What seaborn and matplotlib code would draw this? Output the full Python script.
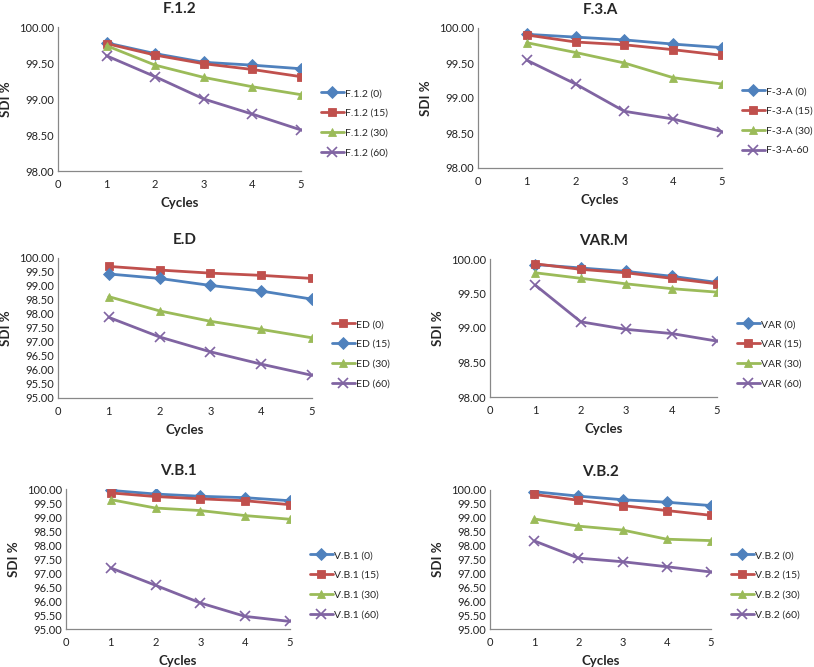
import pandas as pd
import seaborn as sns
import matplotlib.pyplot as plt
from matplotlib.ticker import FormatStrFormatter

cycles = [1, 2, 3, 4, 5]

# F.1.2
f12_labels = ["F.1.2 (0)", "F.1.2 (15)", "F.1.2 (30)", "F.1.2 (60)"]
f12_0 = [99.78, 99.63, 99.51, 99.47, 99.42]
f12_15 = [99.77, 99.61, 99.49, 99.41, 99.31]
f12_30 = [99.74, 99.47, 99.30, 99.17, 99.06]
f12_60 = [99.60, 99.31, 99.00, 98.79, 98.57]

# F.3.A
f3a_labels = ["F-3-A (0)", "F-3-A (15)", "F-3-A (30)", "F-3-A-60"]
f3a_0 = [99.91, 99.87, 99.83, 99.77, 99.72]
f3a_15 = [99.90, 99.80, 99.76, 99.69, 99.61]
f3a_30 = [99.79, 99.65, 99.50, 99.29, 99.20]
f3a_60 = [99.54, 99.20, 98.81, 98.70, 98.52]

# E.D
ed_labels = ["ED (0)", "ED (15)", "ED (30)", "ED (60)"]
ed_0 = [99.70, 99.57, 99.46, 99.38, 99.27]
ed_15 = [99.43, 99.27, 99.02, 98.82, 98.53]
ed_30 = [98.62, 98.11, 97.74, 97.45, 97.15]
ed_60 = [97.88, 97.18, 96.65, 96.21, 95.81]

# VAR.M
var_labels = ["VAR (0)", "VAR (15)", "VAR (30)", "VAR (60)"]
var_0 = [99.92, 99.87, 99.82, 99.75, 99.66]
var_15 = [99.93, 99.85, 99.80, 99.72, 99.64]
var_30 = [99.80, 99.72, 99.64, 99.57, 99.52]
var_60 = [99.62, 99.09, 98.98, 98.92, 98.81]

# V.B.1
vb1_labels = ["V.B.1 (0)", "V.B.1 (15)", "V.B.1 (30)", "V.B.1 (60)"]
vb1_0 = [99.95, 99.82, 99.74, 99.69, 99.58]
vb1_15 = [99.86, 99.73, 99.65, 99.58, 99.44]
vb1_30 = [99.62, 99.32, 99.23, 99.05, 98.92]
vb1_60 = [97.18, 96.56, 95.93, 95.45, 95.27]

# V.B.2
vb2_labels = ["V.B.2 (0)", "V.B.2 (15)", "V.B.2 (30)", "V.B.2 (60)"]
vb2_0 = [99.94, 99.78, 99.65, 99.56, 99.44]
vb2_15 = [99.84, 99.63, 99.44, 99.26, 99.09]
vb2_30 = [98.96, 98.70, 98.56, 98.23, 98.18]
vb2_60 = [98.17, 97.55, 97.42, 97.24, 97.05]

blue, red, green, purple = "#4F81BD", "#C0504D", "#9BBB59", "#8064A2"
std_colors = [blue, red, green, purple]
std_markers = ["D", "s", "^", "x"]

# title, labels, series, ymin, ystep, colors, markers, axes rect (px), legend y (px)
panels = [
    ("F.1.2", f12_labels, [f12_0, f12_15, f12_30, f12_60], 98, 0.5,
     std_colors, std_markers, (58, 27, 243, 144), 123),
    ("F.3.A", f3a_labels, [f3a_0, f3a_15, f3a_30, f3a_60], 98, 0.5,
     std_colors, std_markers, (478, 28, 244, 140), 121),
    ("E.D", ed_labels, [ed_0, ed_15, ed_30, ed_60], 95, 0.5,
     [red, blue, green, purple], ["s", "D", "^", "x"], (58, 258, 254, 140), 354),
    ("VAR.M", var_labels, [var_0, var_15, var_30, var_60], 98, 0.5,
     std_colors, std_markers, (490, 259, 227, 138), 354),
    ("V.B.1", vb1_labels, [vb1_0, vb1_15, vb1_30, vb1_60], 95, 0.5,
     std_colors, std_markers, (66, 489, 224, 140), 585),
    ("V.B.2", vb2_labels, [vb2_0, vb2_15, vb2_30, vb2_60], 95, 0.5,
     std_colors, std_markers, (490, 490, 221, 139), 585),
]

sns.set_theme(style="white")
plt.rcParams["font.family"] = ["Lato", "DejaVu Sans"]

W, H = 814, 667
fig = plt.figure(figsize=(W / 100, H / 100), dpi=100)

for title, labels, series, ymin, ystep, colors, markers, rect, leg_y in panels:
    x0, y0, w, h = rect
    ax = fig.add_axes([x0 / W, 1 - (y0 + h) / H, w / W, h / H])

    for lab, vals, col, mk in zip(labels, series, colors, markers):
        df = pd.DataFrame({"Cycles": cycles, "SDI": vals})
        kw = dict(marker=mk, markersize=6, color=col, linewidth=2.0, label=lab)
        if mk == "x":
            kw.update(markeredgewidth=1.2, markeredgecolor=col, markersize=7)
        else:
            kw.update(markeredgewidth=0.6, markeredgecolor=col)
        sns.lineplot(data=df, x="Cycles", y="SDI", ax=ax, **kw)

    ax.set_xlim(0, 5)
    ax.set_ylim(ymin, 100)
    ax.set_xticks(range(0, 6))
    yt = [ymin + i * ystep for i in range(int(round((100 - ymin) / ystep)) + 1)]
    ax.set_yticks(yt)
    ax.yaxis.set_major_formatter(FormatStrFormatter("%.2f"))
    ax.tick_params(labelsize=8, length=0, colors="#222222")
    ax.tick_params(axis="x", pad=6)
    ax.tick_params(axis="y", pad=3)
    for s in ["top", "right"]:
        ax.spines[s].set_visible(False)
    for s in ["left", "bottom"]:
        ax.spines[s].set_color("#888888")
        ax.spines[s].set_linewidth(0.9)

    ax.set_title(title, fontsize=11, fontweight="bold", pad=10)
    ax.set_xlabel("Cycles", fontsize=9.5, fontweight="bold", labelpad=5)
    ax.set_ylabel("SDI %", fontsize=9.5, fontweight="bold", labelpad=5)

    handles, hl = ax.get_legend_handles_labels()
    leg_x = (x0 + w + 20) / W
    ax.legend(handles, hl, loc="center left",
              bbox_to_anchor=(leg_x, 1 - leg_y / H),
              bbox_transform=fig.transFigure, frameon=False,
              fontsize=7.5, handlelength=2.2, handletextpad=0.1,
              labelspacing=1.0, borderaxespad=0, borderpad=0)

fig.savefig("out.png", dpi=100, facecolor="white")
